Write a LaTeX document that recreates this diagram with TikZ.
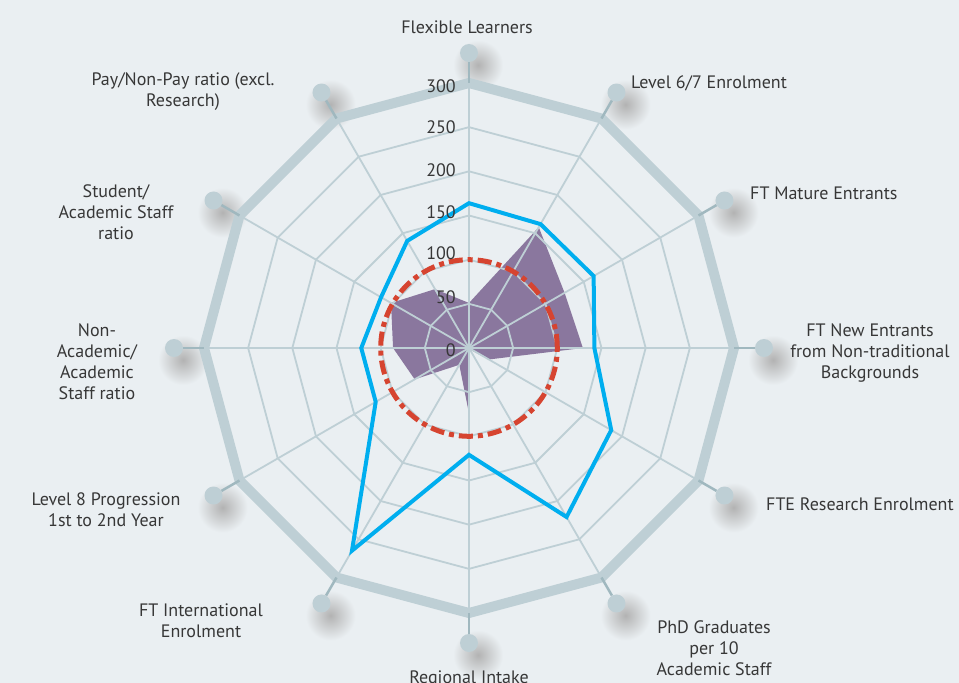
\documentclass[tikz,border=0pt]{standalone}
\usepackage{fontspec}
\setmainfont{PT Sans}

\definecolor{bgcol}{RGB}{234,239,242}
\definecolor{gridcol}{RGB}{190,207,213}
\definecolor{stemcol}{RGB}{160,184,191}
\definecolor{bluecol}{RGB}{0,174,239}
\definecolor{redcol}{RGB}{214,68,48}
\definecolor{purplecol}{RGB}{138,119,158}
\definecolor{textcol}{RGB}{55,55,55}

\begin{document}
\begin{tikzpicture}[x=1pt, y=1pt,
	gridline/.style={draw=gridcol, line width=1.8pt},
	rim/.style={draw=gridcol, line width=10pt},
	stem/.style={draw=stemcol, line width=2.5pt},
	dot/.style={circle, fill=gridcol, minimum size=18pt, inner sep=0pt},
	axislabel/.style={text=textcol, font=\fontsize{18}{21}\selectfont, align=center, inner sep=0pt},
	ticklabel/.style={text=textcol, font=\fontsize{18}{21}\selectfont, anchor=east, inner sep=0pt},
	target/.style={draw=redcol, line width=5pt, dash pattern=on 14pt off 5pt on 5pt off 5pt},
	actual/.style={draw=bluecol, line width=4pt},
	score/.style={fill=purplecol}]
		\useasboundingbox[fill=bgcol] (-469,-335) rectangle (490,348);
		\coordinate (c) at (0,0);
		% shadows of the dots
		\foreach \a in {0,...,11}
			\shade[inner color=black!30, outer color=bgcol, xshift=9pt, yshift=-12pt] ({90-30*\a}:295) circle (25);
		% purple area
		\fill[score] (90:{0.883*51}) \foreach \v [count=\i] in {158,125,129,26,2,74,22,71,86,102,77} { -- ({90-30*\i}:{0.883*\v}) } -- cycle;
		% rings and spokes
		\foreach \r in {1,...,5}
			\draw[gridline] (90:{44.17*\r}) \foreach \a in {1,...,11} { -- ({90-30*\a}:{44.17*\r}) } -- cycle;
		\foreach \a in {0,...,11} {
			\coordinate (o\a) at ({90-30*\a}:265);
			\draw[gridline] (c) -- (o\a);
		}
		\draw[rim] (o0) \foreach \a in {1,...,11} { -- (o\a) } -- cycle;
		\foreach \a in {0,...,11} {
			\node[dot] (d\a) at ({90-30*\a}:295) {};
			\draw[stem] (o\a) -- (d\a);
		}
		% target and result
		\draw[target] (c) circle (88.3);
		\draw[actual] (90:{0.883*164}) \foreach \v [count=\i] in {162,163,142,186,221,121,265,122,122,115,140} { -- ({90-30*\i}:{0.883*\v}) } -- cycle;
		\foreach \v/\y in {0/-2, 50/51, 100/95, 150/136, 200/178, 250/221, 300/262}
			\node[ticklabel] (t\v) at (-13,\y) {\v};
		\node[axislabel] (flex) at (-2,321) {Flexible Learners};
		\node[axislabel, anchor=west] (lvl67) at (162,265) {Level 6/7 Enrolment};
		\node[axislabel, anchor=west] (mature) at (281,155) {FT Mature Entrants};
		\node[axislabel] (newent) at (401,-5) {FT New Entrants\\from Non-traditional\\Backgrounds};
		\node[axislabel, anchor=west] (research) at (297,-156) {FTE Research Enrolment};
		\node[axislabel] (phd) at (245,-300) {PhD Graduates\\per 10\\Academic Staff};
		\node[axislabel, anchor=base] (regional) at (0,-335) {Regional Intake};
		\node[axislabel] (intl) at (-268,-273) {FT International\\Enrolment};
		\node[axislabel] (lvl8) at (-363,-162) {Level 8 Progression\\1st to 2nd Year};
		\node[axislabel] (nonacad) at (-372,-14) {Non-\\Academic/\\Academic\\Staff ratio};
		\node[axislabel] (student) at (-353,136) {Student/\\Academic Staff\\ratio};
		\node[axislabel] (pay) at (-286,256) {Pay/Non-Pay ratio (excl.\\Research)};
	\end{tikzpicture}
\end{document}
